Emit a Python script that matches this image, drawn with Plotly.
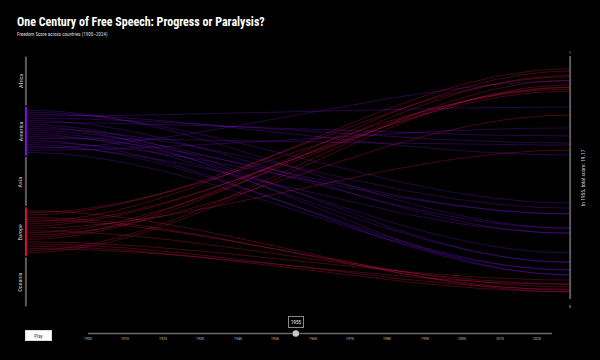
import numpy as np
import plotly.graph_objects as go

# ---------------- data ----------------
regions = ["Africa", "America", "Asia", "Europe", "Oceania"]

america_countries = ["Argentina", "Bolivia", "Brazil", "Canada", "Chile", "Colombia",
                     "Costa Rica", "Cuba", "Dominican Republic", "Ecuador", "El Salvador",
                     "Guatemala", "Haiti", "Honduras", "Mexico", "Nicaragua", "Panama",
                     "Paraguay", "Peru", "United States", "Uruguay", "Venezuela"]
america_scores = [0.292, 0.395, 0.593, 0.790, 0.642, 0.270,
                  0.671, 0.150, 0.099, 0.374, 0.290,
                  0.190, 0.152, 0.350, 0.634, 0.100, 0.350,
                  0.120, 0.272, 0.897, 0.704, 0.119]

europe_countries = ["Albania", "Austria", "Belgium", "Bulgaria", "Czechoslovakia", "Denmark",
                    "Finland", "France", "Greece", "Hungary", "Ireland", "Italy",
                    "Netherlands", "Norway", "Poland", "Portugal", "Romania", "Spain",
                    "Sweden", "United Kingdom"]
europe_scores = [0.029, 0.864, 0.914, 0.037, 0.050, 0.947,
                 0.856, 0.872, 0.613, 0.062, 0.870, 0.757,
                 0.938, 0.920, 0.078, 0.040, 0.030, 0.060,
                 0.900, 0.881]

current_year = 1955
year_start, year_end = 1900, 2024
slider_tick_years = [1900, 1910, 1920, 1930, 1940, 1950, 1960, 1970, 1980, 1990, 2000, 2010, 2020]

# ---------------- layout geometry ----------------
W, H = 600, 360
AX_L, AX_R = 26, 570          # pixel x of left / right axes
AX_TOP, R_BOT, L_BOT = 56, 299, 307   # right axis 1 -> 56px, 0 -> 299px, left axis to 307px
UNIT_X = AX_R - AX_L
UNIT_Y = R_BOT - AX_TOP
XPAD = 0.02
y_min = -(L_BOT - R_BOT) / UNIT_Y
ML = AX_L - XPAD * UNIT_X
MR = W - AX_R - XPAD * UNIT_X
MT = AX_TOP
MB = H - L_BOT
PW = W - ML - MR
PH = H - MT - MB

def px2paper(px):
    return (px - ML) / PW

def py2paper(py):
    return (H - MB - py) / PH

def yd2paper(y):
    return (y - y_min) / (1 - y_min)

def xd2paper(x):
    return (x + XPAD) / (1 + 2 * XPAD)

FONT = "Liberation Sans Narrow, Roboto Condensed, Roboto, sans-serif"
BG = "#000000"
AXIS_GREY = "#5c5c5c"
region_colors = {"America": "#7b14d8", "Europe": "#cf1440"}
line_colors = {"America": "rgba(120,18,215,0.38)", "Europe": "rgba(215,22,70,0.38)"}

band_h = (1 - y_min) / len(regions)
band = {r: (1 - i * band_h, 1 - (i + 1) * band_h) for i, r in enumerate(regions)}
pad = 4 / UNIT_Y

fig = go.Figure()

xs = np.linspace(0, 1, 80)
ease = 3 * xs ** 2 - 2 * xs ** 3

for region, names, scores in [("America", america_countries, america_scores),
                              ("Europe", europe_countries, europe_scores)]:
    top, bot = band[region]
    starts = np.linspace(top - pad, bot + pad, len(names))
    for name, y0, s in zip(names, starts, scores):
        ys = y0 + (s - y0) * ease
        fig.add_trace(go.Scatter(x=xs, y=ys, mode="lines", name=name,
                                 line=dict(color=line_colors[region], width=0.85),
                                 hovertemplate=f"{name}: {s:.2f}<extra></extra>",
                                 showlegend=False))

shapes = []
annotations = []

def note(text, px, py, size, color="#d0d0d0", **kw):
    d = dict(text=text, xref="paper", yref="paper", x=px2paper(px), y=py2paper(py),
             xanchor="center", yanchor="middle", showarrow=False,
             font=dict(family=FONT, size=size, color=color))
    d.update(kw)
    annotations.append(d)

# left axis bands
gap = 0.6 / UNIT_Y
for r in regions:
    top, bot = band[r]
    shapes.append(dict(type="line", xref="paper", yref="paper",
                       x0=xd2paper(0), x1=xd2paper(0),
                       y0=yd2paper(top - gap), y1=yd2paper(bot + gap),
                       line=dict(color=region_colors.get(r, AXIS_GREY), width=2)))
    yc = R_BOT - (top + bot) / 2 * UNIT_Y
    note(r, AX_L - 6, yc, 6, textangle=-90)

# right axis
shapes.append(dict(type="line", xref="paper", yref="paper",
                   x0=xd2paper(1), x1=xd2paper(1), y0=yd2paper(0), y1=yd2paper(1),
                   line=dict(color=AXIS_GREY, width=2)))
note("1", AX_R, AX_TOP - 3.5, 4, "#cccccc")
note("0", AX_R, R_BOT + 7, 4, "#cccccc")
total = sum(america_scores) + sum(europe_scores)
note(f"In {current_year}, total score: {total:.2f}", 583, 178, 5.5, textangle=-90)

# title and subtitle
note("<b>One Century of Free Speech: Progress or Paralysis?</b>", 15, 22.5, 12, "#ffffff",
     xanchor="left")
note("Freedom Score across countries (1900–2024)", 15, 34, 5, "#dddddd", xanchor="left")

# timeline slider (drawn)
RAIL_L, RAIL_R, RAIL_Y = 88, 552, 333.5
def year2px(yr):
    return RAIL_L + (yr - year_start) / (year_end - year_start) * (RAIL_R - RAIL_L)

shapes.append(dict(type="line", xref="paper", yref="paper",
                   x0=px2paper(RAIL_L), x1=px2paper(RAIL_R), y0=py2paper(RAIL_Y), y1=py2paper(RAIL_Y),
                   line=dict(color="#6a6a6a", width=1.5)))
for yr in slider_tick_years:
    note(str(yr), year2px(yr), 338.5, 4, "#bbbbbb")
hx = year2px(current_year) + 2
shapes.append(dict(type="circle", xref="paper", yref="paper",
                   x0=px2paper(hx - 3.2), x1=px2paper(hx + 3.2),
                   y0=py2paper(RAIL_Y + 3.2), y1=py2paper(RAIL_Y - 3.2),
                   fillcolor="#c8c8c8", line=dict(width=0)))
note(str(current_year), hx, 322, 5, "#ffffff",
     bgcolor="#000000", bordercolor="#8a8a8a", borderwidth=1, borderpad=2)
# play button
note("Play", 38.5, 335, 5, "#333333",
     width=23, height=7, bgcolor="#ffffff", bordercolor="#dddddd", borderwidth=1, borderpad=1)

fig.update_layout(
    width=W, height=H,
    margin=dict(l=ML, r=MR, t=MT, b=MB, pad=0),
    paper_bgcolor=BG, plot_bgcolor=BG,
    xaxis=dict(range=[-XPAD, 1 + XPAD], visible=False, fixedrange=True),
    yaxis=dict(range=[y_min, 1], visible=False, fixedrange=True),
    shapes=shapes, annotations=annotations,
    showlegend=False,
    hovermode="closest",
)

fig.write_html("out.html", config={"displayModeBar": False},
               post_script="document.body.style.margin='0';document.body.style.background='#000';"
                           "document.body.style.overflow='hidden';")
